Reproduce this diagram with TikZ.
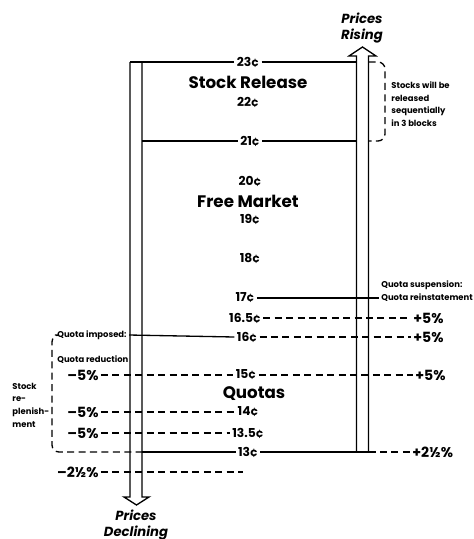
\documentclass[tikz,border=0pt]{standalone}
\usepackage{fontspec}
\setmainfont{Poppins}
\usetikzlibrary{calc}

\begin{document}
\begin{tikzpicture}[
    x=0.02cm, y=-0.02cm,
    line width=0.75pt,
    price/.style={font=\fontsize{7}{8}\selectfont\bfseries, inner sep=1pt},
    zone/.style={font=\fontsize{9.5}{10}\selectfont\bfseries, inner sep=1pt},
    change/.style={font=\fontsize{8}{9}\selectfont\bfseries, inner sep=1pt},
    note/.style={font=\fontsize{4.8}{7.2}\selectfont\bfseries, inner sep=1pt, align=left},
    dir/.style={font=\fontsize{7.5}{9.5}\selectfont\bfseries\itshape, align=center, inner sep=0pt},
    dline/.style={dash pattern=on 4pt off 2.5pt},
]
\useasboundingbox (0,0) rectangle (474,539);

% ============ SHAFT LINES ============
\coordinate (lo) at (130,0);
\coordinate (li) at (142,0);
\coordinate (ri) at (356.5,0);
\coordinate (ro) at (368.5,0);
\coordinate (brR) at (385,0);
\coordinate (brL) at (52,0);

% ============ PRICE SCALE ============
\node[price] (p23) at (248,62) {23¢};
\node[zone] (sr) at (248,82) {Stock Release};
\node[price] (p22) at (248,102) {22¢};
\node[price] (p21) at (250,141) {21¢};
\node[price] (p20) at (250,181) {20¢};
\node[zone] (fm) at (248,201) {Free Market};
\node[price] (p19) at (250,219) {19¢};
\node[price] (p18) at (250,258) {18¢};
\node[price] (p17) at (245,298) {17¢};
\node[price] (p165) at (245,318) {16.5¢};
\node[price] (p16) at (247,337) {16¢};
\node[price] (p15) at (246,375) {15¢};
\node[zone] (qu) at (254,394) {Quotas};
\node[price] (p14) at (248,412) {14¢};
\node[price] (p135) at (248,433) {13.5¢};
\node[price] (p13) at (248,452) {13¢};

% ============ ARROWS ============
\draw (lo |- p23) -- (130,497) -- (124,497) -- (136.5,505) -- (149,497) -- (142,497) -- (li |- p23);
\draw (ri |- p13) -- (356.5,56) -- (349,56) -- (362.5,47) -- (376,56) -- (368.5,56) -- (ro |- p13);
\node[dir] (up) at (362,28) {Prices\\Rising};
\node[dir] (down) at (136,525) {Prices\\Declining};

% ============ STOCK RELEASE ============
\draw (lo |- p23) -- (p23.west);
\draw (p23.east) -- (ri |- p23);
\draw (li |- p21) -- (p21.west);
\draw (p21.east) -- (ri |- p21);
\draw[dline, rounded corners=4pt] (ro |- p23) -- (brR |- p23) -- (brR |- p21) -- (ro |- p21);
\node[note, anchor=west] (sw) at (389,104) {Stocks will be\\released\\sequentially\\in 3 blocks};

% ============ RIGHT: INCREASES ============
\node[note, anchor=west] (qs) at (379,285) {Quota suspension:};
\node[note, anchor=west] (qr) at (379,298) {Quota reinstatement};
\node[change, anchor=west] (pl165) at (411,318) {+5\%};
\node[change, anchor=west] (pl16) at (411,337) {+5\%};
\node[change, anchor=west] (pl15) at (413,375) {+5\%};
\node[change, anchor=west] (pl13) at (410,452) {+2½\%};

\draw (p17.east) -- (qr.west);
\draw[dline] (p165.east) -- (pl165.west);
\draw[dline] (p16.east) -- (pl16.west);
\draw[dline] (p15.east) -- (pl15.west);
\draw (p13.east) -- (ro |- p13);
\draw[dline] (ro |- p13) -- (pl13.west);

% ============ LEFT: REDUCTIONS ============
\node[note, anchor=west] (qi) at (55,335) {Quota imposed:};
\node[note, anchor=west] (qd) at (55,360) {Quota reduction};
\node[note, anchor=west] (srp) at (10,405) {Stock\\re-\\plenish-\\ment};
\node[change, anchor=east] (m15) at (101,375) {\textendash5\%};
\node[change, anchor=east] (m14) at (101,412) {\textendash5\%};
\node[change, anchor=east] (m135) at (101,433) {\textendash5\%};
\node[change, anchor=east] (m25) at (101,472) {\textendash2½\%};
\coordinate (e25) at (243,472);

\draw (qi.east) -- (p16.west);
\draw[dline] (m15.east) -- (p15.west);
\draw[dline] (m14.east) -- (p14.west);
\draw[dline] (m135.east) -- (p135.west);
\draw[dline] (m25.east) -- (e25);
\draw[dline, rounded corners=4pt] (qi.west) -| (brL |- p13) -- (li |- p13);
\draw (li |- p13) -- (p13.west);

\end{tikzpicture}
\end{document}
